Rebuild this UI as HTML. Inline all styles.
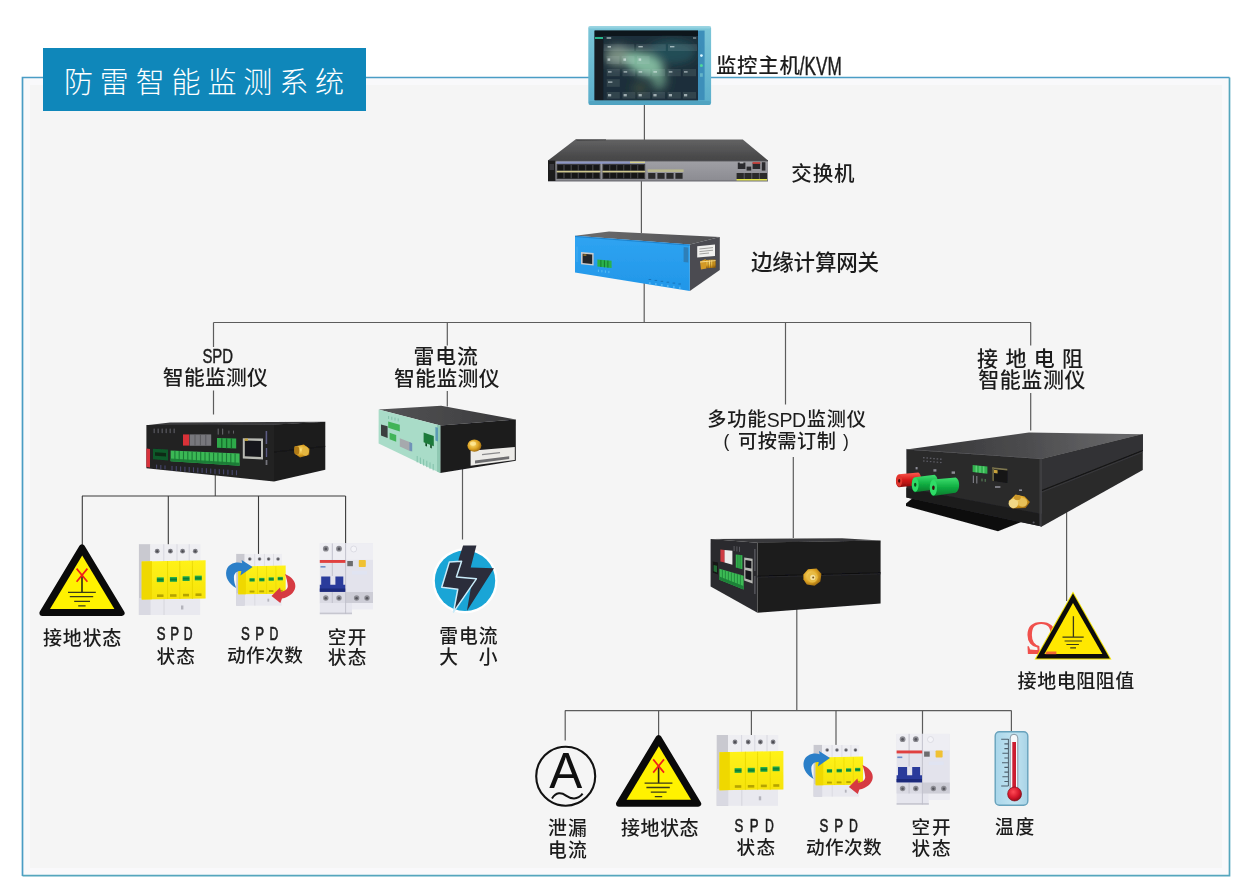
<!DOCTYPE html>
<html lang="zh-CN">
<head>
<meta charset="utf-8">
<title>防雷智能监测系统</title>
<style>
  html, body { margin: 0; padding: 0; background: #ffffff; }
  body { width: 1245px; height: 894px; overflow: hidden; }
  svg { display: block; }
  text { font-family: "Liberation Sans", "Noto Sans CJK SC", sans-serif; fill: #1c1c1c; font-weight: 500; }
  .ln { stroke: #5c5c5c; stroke-width: 1.2; fill: none; }
  .ln2 { stroke: #3a3a3a; stroke-width: 1.1; fill: none; }
</style>
</head>
<body>
<svg width="1245" height="894" viewBox="0 0 1245 894">
<defs>
  <!-- DEFS-START -->
  <linearGradient id="gMonFrame" x1="0" y1="0" x2="0" y2="1">
    <stop offset="0" stop-color="#7cc6d8"/><stop offset="1" stop-color="#5aaecb"/>
  </linearGradient>
  <radialGradient id="gMonGlow" cx="0.5" cy="0.52" r="0.5">
    <stop offset="0" stop-color="#8fc2a8" stop-opacity="1"/>
    <stop offset="0.4" stop-color="#4f8580" stop-opacity="0.8"/>
    <stop offset="1" stop-color="#16242e" stop-opacity="0"/>
  </radialGradient>
  <linearGradient id="gSwTop" x1="0" y1="0" x2="0" y2="1">
    <stop offset="0" stop-color="#626263"/><stop offset="1" stop-color="#454546"/>
  </linearGradient>
  <linearGradient id="gSwFront" x1="0" y1="0" x2="0" y2="1">
    <stop offset="0" stop-color="#a0a0a6"/><stop offset="1" stop-color="#8b8b91"/>
  </linearGradient>
  <linearGradient id="gBlue" x1="0" y1="0" x2="0" y2="1">
    <stop offset="0" stop-color="#2fa4f2"/><stop offset="1" stop-color="#2196e8"/>
  </linearGradient>
  <linearGradient id="gDarkTop" x1="0" y1="0" x2="1" y2="0">
    <stop offset="0" stop-color="#555557"/><stop offset="1" stop-color="#38383a"/>
  </linearGradient>
  <linearGradient id="gGroundTop" gradientUnits="userSpaceOnUse" x1="930" y1="455" x2="1120" y2="432">
    <stop offset="0" stop-color="#38383a"/><stop offset="0.5" stop-color="#4c4c4e"/><stop offset="1" stop-color="#666668"/>
  </linearGradient>
  <linearGradient id="gGateTop" x1="0" y1="0" x2="1" y2="0">
    <stop offset="0" stop-color="#6d6d6e"/><stop offset="1" stop-color="#505053"/>
  </linearGradient>
  <radialGradient id="gGold" cx="0.4" cy="0.4" r="0.7">
    <stop offset="0" stop-color="#ffe27a"/><stop offset="0.55" stop-color="#dda323"/><stop offset="1" stop-color="#8a5a0c"/>
  </radialGradient>
  <linearGradient id="gYellow" x1="0" y1="0" x2="0" y2="1">
    <stop offset="0" stop-color="#fff21a"/><stop offset="1" stop-color="#f6e30a"/>
  </linearGradient>
  <linearGradient id="gGreenWin" x1="0" y1="0" x2="0" y2="1">
    <stop offset="0" stop-color="#2fbf4f"/><stop offset="0.5" stop-color="#0b7a34"/><stop offset="1" stop-color="#27b048"/>
  </linearGradient>
  <linearGradient id="gThermo" x1="0" y1="0" x2="1" y2="0">
    <stop offset="0" stop-color="#a9d6ea"/><stop offset="0.6" stop-color="#c3e4f1"/><stop offset="1" stop-color="#a8d3e6"/>
  </linearGradient>
  <radialGradient id="gBulb" cx="0.4" cy="0.35" r="0.7">
    <stop offset="0" stop-color="#ff4a55"/><stop offset="0.6" stop-color="#d5162a"/><stop offset="1" stop-color="#8e0a18"/>
  </radialGradient>
  <linearGradient id="gGreenPlug" x1="0" y1="0" x2="0" y2="1">
    <stop offset="0" stop-color="#3fe070"/><stop offset="0.5" stop-color="#12b043"/><stop offset="1" stop-color="#0a7a2c"/>
  </linearGradient>
  <linearGradient id="gRedPlug" x1="0" y1="0" x2="0" y2="1">
    <stop offset="0" stop-color="#ff5a50"/><stop offset="0.5" stop-color="#d61a1a"/><stop offset="1" stop-color="#8a0c0c"/>
  </linearGradient>
  <filter id="fGlow" x="-30%" y="-30%" width="160%" height="160%"><feGaussianBlur stdDeviation="4.5"/></filter>
  <filter id="fBlur1" x="-5%" y="-5%" width="110%" height="110%"><feGaussianBlur stdDeviation="0.4"/></filter>
  <filter id="fBlur2" x="-10%" y="-10%" width="120%" height="120%"><feGaussianBlur stdDeviation="0.8"/></filter>

  <!-- warning triangle with ground-fault symbol; apex at (82,544.4) -->
  <g id="icoTri">
    <path d="M82 547.3 L121.6 613 L42.4 613 Z" fill="#0a0a0a" stroke="#0a0a0a" stroke-width="6" stroke-linejoin="round"/>
    <path d="M82.2 555.4 L114.4 609 L50 609 Z" fill="#fff200"/>
    <path d="M82 575 V592.3" stroke="#2a2a14" stroke-width="1.6" fill="none"/>
    <path d="M68 592.4 H95.8 M69.8 596.7 H93.2 M74.2 601.3 H90 M78.2 605.9 H85.6" stroke="#3a3a1a" stroke-width="1.3" fill="none"/>
    <path d="M76.6 568.6 L87.4 581.8 M87.4 568.6 L76.6 581.8" stroke="#f0201a" stroke-width="1.7" fill="none"/>
  </g>

  <!-- big SPD module; bbox (138.8,544.2)-(205.6,615) -->
  <g id="icoSPD" filter="url(#fBlur1)">
    <rect x="138.9" y="544.2" width="11.6" height="70.8" fill="#c9c9d0"/>
    <rect x="150.2" y="544.2" width="50.3" height="18" fill="#eeeef2"/>
    <path d="M163.8 544.2 V562 M177 544.2 V562 M189.2 544.2 V562" stroke="#d2d2da" stroke-width="0.8"/>
    <g fill="#7d7d84"><circle cx="157.2" cy="551.2" r="2.4"/><circle cx="170.4" cy="551.2" r="2.4"/><circle cx="182.6" cy="551.2" r="2.4"/><circle cx="195.3" cy="551.2" r="2.4"/></g>
    <g fill="#4a4a50"><circle cx="157.2" cy="551.4" r="1.1"/><circle cx="170.4" cy="551.4" r="1.1"/><circle cx="182.6" cy="551.4" r="1.1"/><circle cx="195.3" cy="551.4" r="1.1"/></g>
    <rect x="150.2" y="598" width="50" height="17" fill="#e9e9ef"/>
    <rect x="138.9" y="598" width="11.6" height="17" fill="#d9d9e2"/>
    <path d="M164 599 V615" stroke="#d0d0d8" stroke-width="0.8"/>
    <rect x="181" y="605.5" width="2.4" height="4" fill="#b4b4bc"/>
    <path d="M141.7 561.5 L205.6 560.2 L205.6 598.6 L141.7 599.4 Z" fill="url(#gYellow)"/>
    <path d="M141.7 561.5 L152 561.3 L152 599.3 L141.7 599.4 Z" fill="#efd800"/>
    <path d="M167.6 561 V599 M179.8 561 V599 M192.4 561 V599" stroke="#e6d400" stroke-width="0.8"/>
    <rect x="156.8" y="577.3" width="7" height="4.8" fill="url(#gGreenWin)"/>
    <rect x="169.9" y="577" width="7.1" height="4.8" fill="url(#gGreenWin)"/>
    <rect x="182.6" y="576.2" width="7" height="4.8" fill="url(#gGreenWin)"/>
    <rect x="194.8" y="575.6" width="7" height="4.8" fill="url(#gGreenWin)"/>
    <g fill="#b5a400"><rect x="157" y="594.4" width="6.5" height="2.6"/><rect x="170" y="594.2" width="6.5" height="2.6"/><rect x="183" y="593.8" width="6" height="2.6"/><rect x="195.5" y="593.4" width="6" height="2.6"/></g>
  </g>

  <!-- small SPD with arrows; bbox about (225,553.8)-(296,606) -->
  <g id="icoSPDcnt">
    <g transform="translate(236.2,553.9) scale(0.742,0.731) translate(-138.9,-544.2)"><use href="#icoSPD"/></g>
    <path d="M236.2 588 C229 584 224.8 577 226.4 570.4 C228.4 563.6 236 561.4 242.2 563.2 L241.6 560 L252.6 567.1 L240.4 575.4 L241.4 571.2 C237.4 570.6 234.2 573 233.9 577 C233.8 581 235 585 236.2 588 Z" fill="#2b7fc8"/>
    <path d="M285 574 C292 577 296 582 295.3 587 C294.5 593 289 597 282 598.6 L280.3 603 L271.5 596 L280 587.5 L281 592 C285 591 288 589 287.8 586 C287.5 582 286.5 578 285 574 Z" fill="#d63a42"/>
  </g>

  <!-- circuit breaker; bbox (319.8,543.4)-(373,614.2) -->
  <g id="icoBrk" filter="url(#fBlur1)">
    <rect x="319.8" y="543.4" width="53.2" height="60" fill="#e3e3ec"/>
    <rect x="319.8" y="543.4" width="53.2" height="16.4" fill="#eeeef3"/>
    <rect x="319.8" y="603" width="32.2" height="11.2" fill="#e6e6ee"/>
    <rect x="352" y="603" width="21" height="6.4" fill="#ececf2"/>
    <rect x="319.8" y="612.6" width="32.2" height="1.6" fill="#c6c6cf"/>
    <rect x="345.6" y="592" width="27.4" height="11" fill="#cdcdd6"/>
    <rect x="319.8" y="592" width="25.8" height="11" fill="#dadae3"/>
    <path d="M332.3 543.4 V576 M332.3 592 V603 M345.6 543.4 V614" stroke="#bdbdc8" stroke-width="0.9"/>
    <g fill="#8b8b92"><circle cx="325.8" cy="548.7" r="2.9"/><circle cx="339" cy="548.7" r="2.9"/><circle cx="325.8" cy="598" r="2.7"/><circle cx="339" cy="598" r="2.7"/><circle cx="356.6" cy="598" r="2.7"/><circle cx="367" cy="598" r="2.7"/></g>
    <g fill="#55555c"><circle cx="325.8" cy="548.9" r="1.4"/><circle cx="339" cy="548.9" r="1.4"/><circle cx="325.8" cy="598.2" r="1.3"/><circle cx="339" cy="598.2" r="1.3"/><circle cx="356.6" cy="598.2" r="1.3"/><circle cx="367" cy="598.2" r="1.3"/></g>
    <circle cx="353.7" cy="549" r="3" fill="#f4f4f8" stroke="#d6d6de" stroke-width="0.8"/>
    <rect x="319.8" y="560" width="25.6" height="2.9" fill="#e0413f"/>
    <rect x="320.5" y="566" width="5" height="1.6" fill="#6f8fc8"/>
    <rect x="347.3" y="561" width="5.6" height="5.2" fill="#6c6c6e"/>
    <rect x="358.8" y="560" width="7" height="7" rx="0.8" fill="#f0c132"/>
    <rect x="352" y="571" width="15" height="3.5" fill="#dfe3f4" opacity="0.8"/>
    <path d="M321.2 576.5 H330.3 V584.8 H335.4 V576.5 H343.3 V584.8 H345.2 V591.8 H319.8 V584.8 H321.2 Z" fill="#2b3b9b"/>
    <rect x="319.8" y="588.5" width="25.4" height="3.3" fill="#1f2c7c"/>
  </g>
  <!-- DEFS-END -->
</defs>

<!-- FRAME -->
<g id="frame">
  <rect x="22.5" y="77.5" width="1207" height="798" fill="#f5f5f5"/>
  <rect x="26.5" y="81.5" width="1199" height="790" fill="none" stroke="#fbfbfe" stroke-width="7" opacity="0.7"/>
  <path d="M22.5 876 V77.5 H1229.5" fill="none" stroke="#4a9dc5" stroke-width="1.7"/>
  <path d="M22.5 875.6 H1229.5 V77.5" fill="none" stroke="#55a6bd" stroke-width="1.7"/>
  <rect x="43" y="48" width="323" height="63" fill="#0f87ba"/>
  <text x="64" y="92.6" font-size="29" style="fill:#ffffff;font-weight:300" textLength="280" lengthAdjust="spacing">防雷智能监测系统</text>
</g>

<!-- LINES -->
<g id="lines">
  <path class="ln" d="M644.4 104 V141"/>
  <path class="ln" d="M641.4 180 V233"/>
  <path class="ln" d="M644.2 282 V322.5"/>
  <path class="ln" d="M213.5 322.5 H1031"/>
  <path class="ln" d="M213.5 322.5 V347 M213.5 390.5 V414.6"/>
  <path class="ln" d="M447.3 322.5 V345.5 M447.3 391 V406.4"/>
  <path class="ln" d="M785.5 322.5 V404.5"/>
  <path class="ln" d="M1030.7 322.5 V345.5 M1030.7 393 V430.4"/>
  <path class="ln" d="M215.3 468 V496"/>
  <path class="ln2" d="M82 496 H345.5"/>
  <path class="ln2" d="M82.3 496 V546 M168.3 496 V545 M258.5 496 V555 M345.6 496 V544"/>
  <path class="ln" d="M462.5 466 V539.5"/>
  <path class="ln" d="M793.3 457 V538"/>
  <path class="ln" d="M796.8 608 V710.6"/>
  <path class="ln" d="M565 710.6 H1011.4"/>
  <path class="ln" d="M565.2 710.6 V740.6 M658.6 710.6 V737 M751.4 710.6 V736 M836 710.6 V746 M922.5 710.6 V734.5 M1011.4 710.6 V732"/>
  <path class="ln" d="M1066.6 505 V601"/>
</g>

<!-- DEVICES -->
<g id="devices" filter="url(#fBlur1)">
  <!-- ===== monitor / KVM ===== -->
  <g id="devMonitor">
    <rect x="588.3" y="26.2" width="122.8" height="78.8" rx="2.2" fill="url(#gMonFrame)"/>
    <rect x="588.3" y="26.2" width="122.8" height="2.2" rx="1.5" fill="#9ad5e2" opacity="0.8"/>
    <rect x="589" y="101" width="121.4" height="4" rx="1.5" fill="#4d9fbd" opacity="0.75"/>
    <rect x="698" y="30.6" width="6.6" height="69.6" fill="#3d8fba"/>
    <rect x="594.6" y="30.6" width="103.4" height="69.6" fill="#15202a"/>
    <rect x="594.6" y="30.6" width="103.4" height="5.2" fill="#0c131b"/>
    <rect x="603.2" y="36" width="94.8" height="64.2" fill="#1d2f3a"/>
    <g filter="url(#fGlow)">
      <ellipse cx="672" cy="52" rx="24" ry="12" fill="#2a6670" opacity="0.55"/>
      <ellipse cx="618" cy="56" rx="13" ry="10" fill="#b4cdb0" opacity="0.6"/>
      <ellipse cx="644" cy="64" rx="21" ry="11" transform="rotate(22 644 64)" fill="#8cc6a8" opacity="0.9"/>
      <ellipse cx="659" cy="79" rx="8" ry="11" fill="#6fa48a" opacity="0.7"/>
      <ellipse cx="640" cy="88" rx="8" ry="6" fill="#6a7a4a" opacity="0.35"/>
    </g>
    <rect x="594.6" y="35.8" width="8.6" height="64.4" fill="#121a23"/>
    <rect x="595" y="37" width="8" height="2" fill="#29b58c"/>
    <g fill="#c9dadf" opacity="0.12">
      <rect x="603.8" y="44.2" width="30.4" height="6.8"/><rect x="636.2" y="44.2" width="29.6" height="6.8"/><rect x="668" y="44.2" width="29" height="6.8"/>
      <rect x="606.6" y="56" width="12.8" height="8"/><rect x="621.6" y="56" width="12.8" height="8"/><rect x="637" y="56" width="12.6" height="8"/>
      <rect x="606.8" y="69" width="13" height="7.2"/><rect x="622.4" y="69" width="12.8" height="7.2"/><rect x="637.4" y="69" width="12.8" height="7.2"/><rect x="652.2" y="69" width="12.8" height="7.2"/><rect x="667.6" y="69" width="13.2" height="7.2"/><rect x="682.8" y="69" width="13.2" height="7.2"/>
      <rect x="606.8" y="79.2" width="13" height="7.6"/>
      <rect x="606.8" y="92" width="13" height="6.6"/><rect x="622.4" y="92" width="12.8" height="6.6"/><rect x="637.4" y="92" width="12.8" height="6.6"/><rect x="652.2" y="92" width="12.8" height="6.6"/><rect x="667.6" y="92" width="13.2" height="6.6"/><rect x="682.8" y="92" width="13.2" height="6.6"/>
    </g>
    <g fill="#e6f2f2" opacity="0.6">
      <rect x="607.6" y="46" width="3.4" height="1.6"/><rect x="638.4" y="46" width="4.4" height="1.4"/><rect x="670" y="46" width="4.4" height="1.4"/>
      <rect x="607.6" y="58.4" width="2.6" height="2.4"/><rect x="623.4" y="58.4" width="2.6" height="2.4"/><rect x="638.6" y="58.4" width="2.6" height="2.4"/>
      <rect x="608" y="71.2" width="3.6" height="1.4"/><rect x="623.6" y="71.2" width="3.6" height="1.4"/><rect x="638.6" y="71.2" width="3.6" height="1.4"/><rect x="653.4" y="71.2" width="3.6" height="1.4"/><rect x="668.8" y="71.2" width="3.6" height="1.4"/><rect x="684" y="71.2" width="3.6" height="1.4"/>
      <rect x="608" y="81.4" width="4.4" height="1.4"/>
      <rect x="608" y="94" width="3.2" height="2.4"/><rect x="623.6" y="94" width="3.2" height="2.4"/><rect x="638.6" y="94" width="3.2" height="2.4"/><rect x="653.4" y="94" width="3.2" height="2.4"/><rect x="668.8" y="94" width="3.2" height="2.4"/><rect x="684" y="94" width="3.2" height="2.4"/>
      <rect x="606.6" y="37.2" width="4.6" height="1.6"/><rect x="693" y="37.4" width="3.2" height="1.2"/>
    </g>
    <circle cx="701.4" cy="55.6" r="1.4" fill="#d8f6ff"/>
    <circle cx="701.4" cy="65.6" r="1.5" fill="#4fd89a"/>
    <rect x="700" y="73.2" width="2.8" height="3.6" fill="#63b4c8"/>
  </g>

  <!-- ===== switch ===== -->
  <g id="devSwitch">
    <path d="M575.4 139.4 L742.8 139.4 L768 160.4 L548 160.4 Z" fill="url(#gSwTop)"/>
    <path d="M575.4 139.4 L606 139.4 L606 140.2 L577 140.4 Z" fill="#333"/>
    <rect x="548" y="160.2" width="220" height="21" fill="url(#gSwFront)"/>
    <rect x="548" y="160.2" width="220" height="1.1" fill="#39393b"/>
    <rect x="548" y="180.4" width="220" height="1" fill="#6b6b70"/>
    <rect x="548" y="160.6" width="7.4" height="20.4" fill="#1b1b1d"/>
    <rect x="549.4" y="164" width="4.6" height="6" fill="#39393d"/>
    <!-- RJ45 groups -->
    <rect x="556.6" y="161.6" width="88.6" height="2.4" fill="#8c96c6" opacity="0.9"/>
    <rect x="556.6" y="163.8" width="43.8" height="15.2" fill="#3a3a3c"/>
    <rect x="602.4" y="163.8" width="42.8" height="15.2" fill="#3a3a3c"/>
    <g fill="#121214">
      <rect x="557.6" y="165.2" width="5.6" height="5.2"/><rect x="564.8" y="165.2" width="5.6" height="5.2"/><rect x="572" y="165.2" width="5.6" height="5.2"/><rect x="579.2" y="165.2" width="5.6" height="5.2"/><rect x="586.4" y="165.2" width="5.6" height="5.2"/><rect x="593.6" y="165.2" width="5.6" height="5.2"/>
      <rect x="557.6" y="172.8" width="5.6" height="5.4"/><rect x="564.8" y="172.8" width="5.6" height="5.4"/><rect x="572" y="172.8" width="5.6" height="5.4"/><rect x="579.2" y="172.8" width="5.6" height="5.4"/><rect x="586.4" y="172.8" width="5.6" height="5.4"/><rect x="593.6" y="172.8" width="5.6" height="5.4"/>
      <rect x="603.4" y="165.2" width="5.6" height="5.2"/><rect x="610.4" y="165.2" width="5.6" height="5.2"/><rect x="617.4" y="165.2" width="5.6" height="5.2"/><rect x="624.4" y="165.2" width="5.6" height="5.2"/><rect x="631.4" y="165.2" width="5.6" height="5.2"/><rect x="638.4" y="165.2" width="5.6" height="5.2"/>
      <rect x="603.4" y="172.8" width="5.6" height="5.4"/><rect x="610.4" y="172.8" width="5.6" height="5.4"/><rect x="617.4" y="172.8" width="5.6" height="5.4"/><rect x="624.4" y="172.8" width="5.6" height="5.4"/><rect x="631.4" y="172.8" width="5.6" height="5.4"/><rect x="638.4" y="172.8" width="5.6" height="5.4"/>
    </g>
    <rect x="556.6" y="170.8" width="43.8" height="1.6" fill="#cfc78c"/>
    <rect x="602.4" y="170.8" width="42.8" height="1.6" fill="#cfc78c"/>
    <rect x="630" y="161.6" width="15" height="1.6" fill="#d6d08a"/>
    <!-- SFP -->
    <rect x="647.6" y="169.4" width="36" height="2.6" fill="#b9b88e"/>
    <g fill="#2a2a2c"><rect x="648.2" y="173" width="7.2" height="5.8"/><rect x="657.4" y="173" width="7.2" height="5.8"/><rect x="666.4" y="173" width="7.2" height="5.8"/><rect x="675.4" y="173" width="7.2" height="5.8"/></g>
    <!-- right ports -->
    <g fill="#2c2c2e"><rect x="737.8" y="162.6" width="7.6" height="6.4"/><rect x="752.6" y="162.6" width="7.6" height="6.4"/><rect x="761.8" y="162.2" width="3.6" height="8.4"/><rect x="746.6" y="166.6" width="4.6" height="4"/></g>
    <rect x="752.6" y="162.2" width="7.6" height="1.6" fill="#d8413c"/>
    <rect x="739.8" y="162.2" width="3.6" height="1.2" fill="#c8c8cc"/>
    <rect x="736.6" y="173" width="30.4" height="6" fill="#2a2a2c"/>
    <path d="M744.2 173 V179 M751.8 173 V179 M759.4 173 V179" stroke="#77777c" stroke-width="0.7"/>
    <rect x="736.6" y="179" width="30.4" height="1.5" fill="#e1e34a"/>
  </g>

  <!-- ===== edge gateway ===== -->
  <g id="devGateway">
    <path d="M575 235.7 L609 231.4 L719.8 237 L689.8 244.6 Z" fill="url(#gGateTop)"/>
    <path d="M689.8 244.4 L719.8 237 L719.8 270 L689.8 291 Z" fill="#4b4c51"/>
    <path d="M575 235.7 L689.8 244.4 L689.8 291 L575 272.6 Z" fill="url(#gBlue)"/>
    <path d="M575 235.7 L689.8 244.4 L689.8 245.8 L575 237 Z" fill="#1a78c0" opacity="0.7"/>
    <path d="M683.6 247 L688.3 247.4 L688.3 262.6 L683.6 262 Z" fill="#2f7fb8"/>
    <!-- RJ45 -->
    <path d="M581 252 L593.6 253 L593.6 265.4 L581 264.2 Z" fill="#c9ccce"/>
    <path d="M582.6 253.8 L592.2 254.6 L592.2 264 L582.6 263 Z" fill="#24262a"/>
    <rect x="583.4" y="254.2" width="3" height="1.8" fill="#8a6a2a"/>
    <!-- green terminal -->
    <path d="M597.4 259.6 L611.6 260.8 L611.6 268 L597.4 266.6 Z" fill="#2bb24c"/>
    <path d="M600.9 260 V267 M604.4 260.3 V267.3 M607.9 260.6 V267.6" stroke="#14782c" stroke-width="1"/>
    <path d="M598.4 269.6 V272 M601.9 270 V272.4 M605.4 270.4 V272.8 M608.9 270.8 V273.2" stroke="#63c5f6" stroke-width="0.8"/>
    <path d="M577 246.6 V262" stroke="#58b9f5" stroke-width="0.8" opacity="0.7"/>
    <!-- LEDs text -->
    <g fill="#1670b5" opacity="0.9"><rect x="648.6" y="279" width="2.6" height="1"/><rect x="654.6" y="279.9" width="2.6" height="1"/><rect x="660.6" y="280.8" width="2.6" height="1"/><rect x="666.6" y="281.7" width="2.6" height="1"/><rect x="672.6" y="282.6" width="2.6" height="1"/><rect x="678.4" y="283.5" width="2.6" height="1"/></g>
    <g fill="#58baf5" opacity="0.8"><rect x="649" y="282.2" width="1.6" height="2.2"/><rect x="655" y="283.1" width="1.6" height="2.2"/><rect x="661" y="284" width="1.6" height="2.2"/><rect x="667" y="284.9" width="1.6" height="2.2"/><rect x="673" y="285.8" width="1.6" height="2.2"/><rect x="679" y="286.7" width="1.6" height="2.2"/></g>
    <!-- label + SMA -->
    <path d="M697.2 246.2 L715 244.4 L715 256 L697.2 257.6 Z" fill="#f0f0ee"/>
    <path d="M699.4 249 L713 247.6 M699.4 251.6 L713 250.2 M699.4 254 L709 253" stroke="#8d8d8a" stroke-width="0.8"/>
    <path d="M700 261.4 L705.6 259 L706.4 268.4 L701 269.6 Z" fill="#d39a28"/>
    <path d="M705.6 260 L715.6 259.4 L715.8 267.8 L706.2 268.2 Z" fill="url(#gGold)"/>
    <path d="M708.2 259.9 V268 M710.6 259.8 V267.9 M713 259.6 V267.8" stroke="#8a5f14" stroke-width="0.7"/>
    <path d="M700 262 L715.6 260.6" stroke="#ffeaa0" stroke-width="1" opacity="0.8"/>
  </g>
</g>

<g id="devices2" filter="url(#fBlur1)">
  <!-- ===== SPD intelligent monitor (black, left) ===== -->
  <g id="devSPDmon">
    <path d="M146.4 425.2 L170 422.6 L325.2 421.8 L274 424.8 Z" fill="#3a3a3c"/>
    <path d="M274 424.6 L325.3 421.8 L325.3 469.8 L274 481.4 Z" fill="#1b1b1d"/>
    <path d="M146.4 425 L274 424.6 L274 481.4 L146.4 468.2 Z" fill="#202022"/>
    <path d="M274 452 L325.3 446.4" stroke="#101011" stroke-width="0.8"/>
    <path d="M146.4 448.6 L150 448.9 L150 467.4 L146.4 467 Z" fill="#d8323a"/>
    <!-- small dark-green connector -->
    <path d="M153 448.8 L168 449.6 L168 460.4 L153 459.2 Z" fill="#0f5a2a"/>
    <path d="M155 452.2 L166 452.9 L166 456.6 L155 455.8 Z" fill="#0a2a14"/>
    <!-- display -->
    <rect x="183" y="434.4" width="6.2" height="11.2" fill="#d93038"/>
    <rect x="189.6" y="434.4" width="21.6" height="11.4" fill="#77777c"/>
    <path d="M195 434.6 V445.6 M200.4 434.6 V445.6 M205.8 434.6 V445.6" stroke="#55555a" stroke-width="0.9"/>
    <!-- upper small terminals -->
    <path d="M217 438 L236.2 438.4 L236.2 448.4 L217 447.8 Z" fill="#2ea84a"/>
    <path d="M221.8 438.2 V448 M226.6 438.2 V448.2 M231.4 438.3 V448.3" stroke="#156c2b" stroke-width="1.3"/>
    <!-- long terminal strip -->
    <path d="M170.6 450.4 L239.6 453.6 L239.6 465.8 L170.6 461.2 Z" fill="#3ab854"/>
    <path d="M170.6 458.6 L239.6 462.8 L239.6 465.8 L170.6 461.2 Z" fill="#1f7f38"/>
    <path d="M174.9 450.8 V460.6 M179.2 451 V460.9 M183.5 451.2 V461.2 M187.8 451.4 V461.5 M192.1 451.6 V461.8 M196.4 451.8 V462.1 M200.7 452 V462.4 M205 452.2 V462.7 M209.3 452.4 V463 M213.6 452.6 V463.3 M217.9 452.8 V463.6 M222.2 453 V463.9 M226.5 453.2 V464.2 M230.8 453.4 V464.5 M235.1 453.6 V464.8" stroke="#1c7a35" stroke-width="1.1"/>
    <!-- RJ45 -->
    <path d="M242.8 438.2 L263 438.6 L263 459.6 L242.8 458.6 Z" fill="#b9bab4"/>
    <path d="M244.8 440.6 L261 441 L261 457 L244.8 456.2 Z" fill="#17181a"/>
    <rect x="244.6" y="438.6" width="3.4" height="2.2" fill="#c9a83a"/>
    <!-- tiny labels -->
    <g fill="#77777c" opacity="0.75">
      <rect x="153.6" y="428.6" width="1.1" height="4.6"/><rect x="157.6" y="428.6" width="1.1" height="4.6"/><rect x="161.6" y="428.6" width="1.1" height="4.6"/><rect x="165.6" y="428.6" width="1.1" height="4.6"/><rect x="169.6" y="428.6" width="1.1" height="4.6"/><rect x="173.6" y="428.6" width="1.1" height="4.6"/>
      <rect x="217.6" y="428.6" width="1.2" height="6"/><rect x="222" y="428.6" width="1.2" height="6"/><rect x="228.4" y="430.6" width="1" height="3"/><rect x="233" y="430.6" width="1" height="3"/>
    </g>
    <g fill="#4d4d7a" opacity="0.8">
      <rect x="156" y="464.6" width="1.2" height="4"/><rect x="160.2" y="465" width="1.2" height="4"/><rect x="164.4" y="465.4" width="1.2" height="4"/>
      <rect x="171.4" y="465.8" width="1.2" height="5"/><rect x="175.7" y="466.1" width="1.2" height="5"/><rect x="180" y="466.4" width="1.2" height="5"/><rect x="184.3" y="466.7" width="1.2" height="5"/><rect x="188.6" y="467" width="1.2" height="5"/><rect x="192.9" y="467.3" width="1.2" height="5"/><rect x="197.2" y="467.6" width="1.2" height="5"/><rect x="201.5" y="467.9" width="1.2" height="5"/><rect x="205.8" y="468.2" width="1.2" height="5"/><rect x="210.1" y="468.5" width="1.2" height="5"/><rect x="214.4" y="468.8" width="1.2" height="5"/><rect x="218.7" y="469.1" width="1.2" height="5"/><rect x="223" y="469.4" width="1.2" height="5"/><rect x="227.3" y="469.7" width="1.2" height="5"/><rect x="231.6" y="470" width="1.2" height="5"/><rect x="235.9" y="470.3" width="1.2" height="5"/>
    </g>
    <g fill="#6c6c9a" opacity="0.8"><rect x="265.6" y="431" width="1.6" height="13"/><rect x="265.8" y="448" width="1.4" height="9"/><rect x="265.6" y="460" width="1.8" height="5" fill="#8a8a90"/></g>
    <!-- SMA -->
    <path d="M294.4 446.6 L303.8 444.6 L309.6 448.8 L309.2 455 L300 457.6 L294.6 453.6 Z" fill="url(#gGold)"/>
    <ellipse cx="305.4" cy="451.2" rx="3.6" ry="4.6" fill="#e3b540"/>
    <ellipse cx="296.8" cy="450.4" rx="2.6" ry="4.2" fill="#b07a18"/>
  </g>

  <!-- ===== lightning current monitor (green/black) ===== -->
  <g id="devLightning">
    <path d="M378.6 409.6 L441.2 405.8 L515.8 419.6 L440.4 425.6 Z" fill="url(#gDarkTop)"/>
    <path d="M440.2 425.4 L515.8 419.6 L515.8 460.8 L440.2 473 Z" fill="#1a1a1c"/>
    <path d="M378.6 409.6 L440.2 425.4 L440.2 473 L378.6 443.4 Z" fill="#a9dcc8"/>
    <path d="M437 424.6 L440.2 425.4 L440.2 473 L437 471.4 Z" fill="#8fc8b2"/>
    <!-- front details -->
    <path d="M381 424.4 L387.6 426.2 L387.6 438 L381 435.6 Z" fill="#3a3f3f"/>
    <path d="M388.2 421.6 L399.8 424.8 L399.8 431.6 L388.2 427.8 Z" fill="#43b458"/>
    <path d="M389.6 432.8 L396.2 435 L396.2 441.8 L389.6 439.2 Z" fill="#43b458"/>
    <path d="M399.8 438.2 L410.8 442.6 L410.8 451.6 L399.8 446.6 Z" fill="#a6a9ad"/>
    <path d="M409.4 442 L412.2 443.2 L412.2 451.6 L409.4 450.4 Z" fill="#6f93b8"/>
    <path d="M423.6 432.6 L433.8 436 L433.8 446.2 L423.6 442.2 Z" fill="#1f7a3a"/>
    <path d="M425.4 442.8 L427 443.4 L427 446.6 L425.4 446 Z M430.2 444.6 L431.8 445.2 L431.8 448.4 L430.2 447.8 Z" fill="#0f4a22"/>
    <path d="M435.4 427 L438 427.8 L438 441.4 L435.4 440.4 Z" fill="#5b9bb5"/>
    <g stroke="#7fbfa8" stroke-width="0.9" fill="none"><path d="M388.6 416 V419 M391.8 416.8 V419.8 M395 417.6 V420.6 M398.2 418.4 V421.4"/><path d="M417.2 456 V462.4 M420.4 457.6 V464 M423.6 459.2 V465.6 M426.8 460.8 V467.2 M430 462.4 V468.8 M433.2 464 V470.4"/></g>
    <!-- label + SMA -->
    <path d="M470.6 450.8 L514.8 447 L514.8 460 L470.6 465.8 Z" fill="#ecebe8"/>
    <path d="M475 460.4 L509.2 456.2 L509.2 459 L475 463.4 Z" fill="#6d6d6f"/>
    <path d="M482 454.6 L500 452.6" stroke="#8a8a8c" stroke-width="1.2"/>
    <ellipse cx="474.4" cy="445.6" rx="7" ry="6.2" fill="url(#gGold)"/>
    <ellipse cx="473" cy="443.6" rx="3" ry="2.2" fill="#ffe89a" opacity="0.8"/>
  </g>

  <!-- ===== multi-function SPD monitor (black) ===== -->
  <g id="devMulti">
    <path d="M710.6 539 L757.5 542.8 L880.6 540.6 L842 538.2 Z" fill="#39393b"/>
    <path d="M757.5 542.6 L880.6 540.6 L880.6 603.6 L757.5 612.8 Z" fill="#1b1b1d"/>
    <path d="M710.6 539 L757.5 542.8 L757.5 612.8 L710.6 586.6 Z" fill="#2c2c2f"/>
    <path d="M757.5 576.2 L880.6 572.8" stroke="#0d0d0e" stroke-width="1"/>
    <path d="M757.5 577.2 L880.6 573.8" stroke="#2b2b2e" stroke-width="0.8"/>
    <!-- left face details -->
    <path d="M720.4 549.6 L724.8 550 L724.8 562.6 L720.4 561.6 Z" fill="#cf3a42"/>
    <path d="M724.6 550 L732.4 550.8 L732.4 564.8 L724.6 562.6 Z" fill="#ecebea"/>
    <path d="M735.8 554.4 L742.4 555.2 L742.4 569.2 L735.8 567.4 Z" fill="#35b150"/>
    <path d="M737.9 554.8 V568 M740.1 555 V568.6" stroke="#1b7a34" stroke-width="0.7"/>
    <path d="M719.4 568.8 L743.6 575.8 L743.6 589.4 L719.4 579.8 Z" fill="#3dbb55"/>
    <path d="M719.4 576.6 L743.6 586 L743.6 589.4 L719.4 579.8 Z" fill="#1f8238"/>
    <path d="M722.4 569.8 V578.6 M725.4 570.6 V579.8 M728.4 571.4 V581 M731.4 572.2 V582.2 M734.4 573 V583.4 M737.4 573.8 V584.6 M740.4 574.6 V585.8" stroke="#1f8238" stroke-width="0.8"/>
    <path d="M744.2 557.6 L752.6 558.8 L752.6 583.6 L744.2 580.4 Z" fill="#b9bab6"/>
    <path d="M745.4 560 L751.4 561 L751.4 568.6 L745.4 567.4 Z M745.4 570 L751.4 571.4 L751.4 580.4 L745.4 578.4 Z" fill="#18191b"/>
    <path d="M712.8 561.4 L717.8 562.4 L717.8 574.4 L712.8 572.4 Z" fill="#121314"/>
    <path d="M713.6 565 L717 565.8 L717 572.4 L713.6 571.2 Z" fill="#246a34"/>
    <g fill="#6c6c74" opacity="0.7"><rect x="754.2" y="549" width="1.3" height="22"/><rect x="754.2" y="576" width="1.3" height="18"/><rect x="733.6" y="546" width="1" height="5"/><rect x="736.4" y="546.4" width="1" height="5"/><rect x="739" y="546.8" width="1" height="5"/></g>
    <!-- SMA -->
    <path d="M803.4 574.4 L808 569.2 L816.6 568.6 L821.4 573.8 L820.4 581.6 L814.6 585.8 L806.8 584.6 L803.4 579.6 Z" fill="url(#gGold)"/>
    <circle cx="812.4" cy="577.2" r="5.2" fill="#e7bb45"/>
    <circle cx="812.8" cy="577.4" r="2.6" fill="#f6e2a0"/>
    <circle cx="813.2" cy="577.6" r="1" fill="#7d5a1a"/>
  </g>

  <!-- ===== ground resistance monitor ===== -->
  <g id="devGround">
    <!-- base plate -->
    <path d="M906 503.4 L914 497 L1030 519 L1017.4 523.6 L998 531.2 L906 506 Z" fill="#0e0e0f"/>
    <!-- body -->
    <path d="M906.4 449.4 L1028.8 432.6 L1142.8 434.2 L1041.8 459 Z" fill="url(#gGroundTop)"/>
    <path d="M906.4 449.4 L1041.8 459" stroke="#5a5a5d" stroke-width="0.8"/>
    <path d="M1041.8 459 L1142.8 434.2 L1142.8 470 L1041.8 526.4 Z" fill="#2a2a2c"/>
    <path d="M1041.8 459 L1142.8 434.2 L1142.8 450.6 L1041.8 490.6 Z" fill="#323234"/>
    <path d="M1041.8 490.6 L1142.8 450.6" stroke="#141415" stroke-width="1.1"/>
    <path d="M1041.8 492 L1142.8 452" stroke="#3c3c3f" stroke-width="0.8"/>
    <path d="M906.4 449.4 L1041.8 459 L1041.8 526.4 L1020 522 L906.4 497.4 Z" fill="#29292b"/>
    <path d="M906.4 488 L1041.8 514 L1041.8 526.4 L906.4 497.4 Z" fill="#1d1d1f"/>
    <path d="M1039.4 458.8 L1041.8 459 L1041.8 526.4 L1039.4 526 Z" fill="#3c3c3f"/>
    <!-- leds -->
    <g fill="#5c5c62"><rect x="923" y="457" width="1.6" height="1.4"/><rect x="926.4" y="457.3" width="1.6" height="1.4"/><rect x="929.8" y="457.6" width="1.6" height="1.4"/><rect x="933.2" y="457.9" width="1.6" height="1.4"/><rect x="936.6" y="458.2" width="1.6" height="1.4"/><rect x="940" y="458.5" width="1.6" height="1.4"/>
      <rect x="923" y="460.4" width="1.6" height="1.2"/><rect x="926.4" y="460.7" width="1.6" height="1.2"/><rect x="929.8" y="461" width="1.6" height="1.2"/><rect x="933.2" y="461.3" width="1.6" height="1.2"/><rect x="936.6" y="461.6" width="1.6" height="1.2"/><rect x="940" y="461.9" width="1.6" height="1.2"/></g>
    <g fill="#8c8c94"><rect x="915.6" y="467" width="2" height="2.4"/><rect x="933.4" y="469.2" width="3" height="2.4"/><rect x="951.6" y="471.4" width="3.4" height="2.4"/><rect x="995" y="486.2" width="5.4" height="1.6"/><rect x="1019" y="489.4" width="3" height="1.6"/></g>
    <!-- green terminal -->
    <path d="M972.6 465 L987.4 466.4 L987.4 473.8 L972.6 472 Z" fill="#33b350"/>
    <path d="M976.2 465.6 V472.4 M980 466 V472.8 M983.8 466.4 V473.2" stroke="#7fe095" stroke-width="0.8"/>
    <path d="M973.4 475.6 V483 M976.8 476 V483.4" stroke="#7a7a80" stroke-width="1.2"/>
    <path d="M982 478.6 V481.4 M985.2 479 V481.8" stroke="#5c8a5c" stroke-width="1"/>
    <!-- RJ45 -->
    <path d="M992.2 467.2 L1007.4 468.8 L1007.4 483 L992.2 480.8 Z" fill="#121314"/>
    <path d="M992.2 467.2 L1007.4 468.8 L1007.4 470.6 L992.2 469 Z" fill="#7d7650"/>
    <path d="M992.2 467.2 L994 467.4 L994 481 L992.2 480.8 Z" fill="#6a643f"/>
    <path d="M994 469.8 L997.6 470.2 L997.6 473.4 L994 473 Z" fill="#c9a23a"/>
    <!-- plugs -->
    <path d="M898.8 474.2 C895.2 475 894.8 485.8 898.8 487.2 L918.4 485.2 C922 483.2 922 474.6 918.4 472.4 Z" fill="url(#gRedPlug)"/>
    <ellipse cx="899.2" cy="480.8" rx="3" ry="6" fill="#e2362e"/>
    <ellipse cx="899.2" cy="480.8" rx="1.1" ry="1.9" fill="#4a0808"/>
    <path d="M914.6 477.2 C911 478.4 910.6 490.2 914.8 492.2 L934.4 489.4 C938.8 486.8 939 477.4 934.6 474.8 Z" fill="url(#gGreenPlug)"/>
    <ellipse cx="915.2" cy="484.8" rx="3.4" ry="7" fill="#2fdc66"/>
    <ellipse cx="915.2" cy="484.8" rx="1.2" ry="2" fill="#0a4a1e"/>
    <path d="M932.8 479.6 C929.2 480.8 928.8 494 933 496 L955.6 492.8 C960.2 490 960.4 480 955.8 477.4 Z" fill="url(#gGreenPlug)"/>
    <ellipse cx="933.4" cy="487.8" rx="3.6" ry="7.8" fill="#2fdc66"/>
    <ellipse cx="933.4" cy="487.8" rx="1.3" ry="2.2" fill="#3a0a0a"/>
    <!-- SMA -->
    <path d="M1008.6 501.6 L1015.6 494.4 L1024.6 496.4 L1030 502 L1025.6 508 L1012 508.6 Z" fill="url(#gGold)"/>
    <ellipse cx="1013.4" cy="503.6" rx="4.8" ry="4.6" fill="#f1d887"/>
    <ellipse cx="1022.6" cy="502.4" rx="4.6" ry="4.4" fill="#e6bf58"/>
    <ellipse cx="1017.4" cy="497.6" rx="3.4" ry="2.6" fill="#c8952a"/>
    <circle cx="1033.6" cy="522.6" r="1" fill="#5a5a5e"/>
  </g>
</g>

<g id="icons">
  <!-- row under SPD monitor -->
  <use href="#icoTri"/>
  <use href="#icoSPD"/>
  <use href="#icoSPDcnt"/>
  <use href="#icoBrk"/>
  <!-- row under multi-function monitor -->
  <g transform="translate(576.6,190.8)"><use href="#icoTri"/></g>
  <g transform="translate(577.8,190.8)"><use href="#icoSPD"/></g>
  <g transform="translate(577.4,191)"><use href="#icoSPDcnt"/></g>
  <g transform="translate(576.8,190.5)"><use href="#icoBrk"/></g>

  <!-- lightning current icon -->
  <g id="icoBolt">
    <circle cx="465" cy="580.8" r="32.6" fill="#ffffff" opacity="0.9"/>
    <circle cx="465" cy="580.8" r="30.2" fill="#1aa5d6"/>
    <path d="M463.1 545.5 L476.4 545.5 L470.7 567.4 L494 568.3 L466.9 611.1 L471.5 584 L455 580 L458.8 558.8 Z" fill="#2b2d3b"/>
    <path d="M449.3 562.1 L461.6 561.2 L456.4 576.9 L476.4 578.8 L453.5 612.1 L457.8 589.2 L441.7 587.3 Z" fill="#2b2d3b" stroke="#c9ebf9" stroke-width="1.5" stroke-linejoin="round"/>
  </g>

  <!-- ground resistance icon -->
  <g id="icoOhm">
    <text x="1025.3" y="654.2" font-size="47.5" textLength="32" lengthAdjust="spacingAndGlyphs" style="font-family:'Liberation Serif',serif;font-weight:400;fill:#f0504c">Ω</text>
    <path d="M1073 591.4 L1111.5 659.4 L1034.5 659.4 Z" fill="#f2e200"/>
    <path d="M1073 593.4 L1109.8 658.6 L1036.2 658.6 Z" fill="#0c0c0c"/>
    <path d="M1073 603 L1102.4 654 L1044.4 654 Z" fill="#ffe800"/>
    <path d="M1073.4 616.2 V637" stroke="#3a3a1a" stroke-width="1.3" fill="none"/>
    <path d="M1062.5 637.2 H1083.7 M1064.6 641 H1081.9 M1066.4 644.5 H1078.9 M1070.2 647.8 H1076" stroke="#3a3a1a" stroke-width="1.2" fill="none"/>
    <path d="M1046.6 651.6 H1056.4 V654.2 H1045.4 Z" fill="#ee5a3a" opacity="0.9"/>
  </g>

  <!-- ammeter -->
  <g id="icoAmp">
    <circle cx="565.7" cy="776.2" r="29.5" fill="none" stroke="#121212" stroke-width="2.1"/>
    <text x="549.2" y="788.2" font-size="49.5" style="fill:#101010">A</text>
    <path d="M552 798.6 C556 791.8 561.5 792.4 566 795.6 C570.5 798.8 577.5 800.5 582.6 793.6" fill="none" stroke="#121212" stroke-width="2"/>
  </g>

  <!-- thermometer -->
  <g id="icoTherm">
    <rect x="995.2" y="731.8" width="32.6" height="73.4" rx="4.2" fill="url(#gThermo)" stroke="#67a2bc" stroke-width="1.4"/>
    <path d="M1010.2 794 V738 A3.8 3.8 0 0 1 1017.8 738 V794 Z" fill="#f6f8fa" stroke="#8596a3" stroke-width="1"/>
    <rect x="1012.3" y="742" width="3.7" height="50" fill="#cc1d30"/>
    <circle cx="1014.6" cy="794" r="7" fill="url(#gBulb)" stroke="#7a0a14" stroke-width="0.6"/>
    <path d="M1008.4 739 V786" stroke="#4d5f6c" stroke-width="1"/>
    <path d="M1001.2 739.2 H1008.4 M1004.4 743.9 H1008.4 M1004.4 748.6 H1008.4 M1002.4 753.3 H1008.4 M1004.4 758 H1008.4 M1002 762.7 H1008.4 M1004.4 767.4 H1008.4 M1004.4 772.1 H1008.4 M1002.4 776.8 H1008.4 M1004.4 781.5 H1008.4 M1001.2 786 H1008.4" stroke="#4d5f6c" stroke-width="1.1"/>
  </g>
</g>

<!-- LABELS -->
<g id="labels">
  <text x="715.9 737.1 758.2 779.4" y="73.2" font-size="20.5">监控主机</text>
  <text x="799.7" y="75.2" font-size="25.6" textLength="42.0" lengthAdjust="spacingAndGlyphs" stroke="#1c1c1c" stroke-width="0.45">/KVM</text>
  <text x="791.2 812.7 834.1" y="181.2" font-size="20.5">交换机</text>
  <text x="751.0 772.3 793.6 814.9 836.2 857.5" y="270.3" font-size="21.5">边缘计算网关</text>
  <text x="202.4" y="362.5" font-size="20.0" textLength="30.7" lengthAdjust="spacingAndGlyphs" stroke="#1c1c1c" stroke-width="0.45">SPD</text>
  <text x="162.8 183.9 204.9 226.0 247.1" y="385.3" font-size="20.8">智能监测仪</text>
  <text x="413.5 435.2 456.9" y="364.4" font-size="20.8">雷电流</text>
  <text x="394.1 415.3 436.4 457.6 478.8" y="386.4" font-size="20.8">智能监测仪</text>
  <text x="707.3 727.2 747.2" y="426.0" font-size="19.2">多功能</text>
  <text x="766.7" y="426.5" font-size="19.5" textLength="39.5" lengthAdjust="spacing">SPD</text>
  <text x="806.7 826.8 846.8" y="426.0" font-size="19.2">监测仪</text>
  <text x="738.0 757.7 777.3 797.0 816.7" y="447.9" font-size="19.2">可按需订制</text>
  <text x="977.1 1005.4 1033.7 1062.0" y="365.7" font-size="21.0">接地电阻</text>
  <text x="978.3 999.8 1021.3 1042.9 1064.4" y="387.3" font-size="21.0">智能监测仪</text>
  <text x="42.9 62.7 82.5 102.3" y="644.6" font-size="19.0">接地状态</text>
  <text x="156.8" y="639.6" font-size="17.6" textLength="8.8" lengthAdjust="spacingAndGlyphs" stroke="#1c1c1c" stroke-width="0.6">S</text>
  <text x="170.2" y="639.6" font-size="17.6" textLength="8.8" lengthAdjust="spacingAndGlyphs" stroke="#1c1c1c" stroke-width="0.6">P</text>
  <text x="183.7" y="639.6" font-size="17.6" textLength="8.8" lengthAdjust="spacingAndGlyphs" stroke="#1c1c1c" stroke-width="0.6">D</text>
  <text x="156.5 176.2" y="662.7" font-size="18.6">状态</text>
  <text x="241.1" y="639.6" font-size="17.6" textLength="8.8" lengthAdjust="spacingAndGlyphs" stroke="#1c1c1c" stroke-width="0.6">S</text>
  <text x="255.2" y="639.6" font-size="17.6" textLength="8.8" lengthAdjust="spacingAndGlyphs" stroke="#1c1c1c" stroke-width="0.6">P</text>
  <text x="269.4" y="639.6" font-size="17.6" textLength="8.8" lengthAdjust="spacingAndGlyphs" stroke="#1c1c1c" stroke-width="0.6">D</text>
  <text x="227.1 246.1 265.2 284.2" y="662.2" font-size="18.6">动作次数</text>
  <text x="327.7 347.7" y="643.9" font-size="18.6">空开</text>
  <text x="327.7 347.7" y="664.0" font-size="18.6">状态</text>
  <text x="439.2 458.9 478.7" y="642.6" font-size="18.8">雷电流</text>
  <text x="439.2 478.7" y="664.1" font-size="18.8">大小</text>
  <text x="1017.6 1037.2 1056.7 1076.2 1095.7 1115.3" y="687.7" font-size="19.0">接地电阻阻值</text>
  <text x="547.9 567.9" y="835.2" font-size="18.8">泄漏</text>
  <text x="547.9 567.9" y="857.0" font-size="18.8">电流</text>
  <text x="621.1 640.5 660.0 679.4" y="835.2" font-size="19.0">接地状态</text>
  <text x="734.6" y="831.6" font-size="17.6" textLength="8.8" lengthAdjust="spacingAndGlyphs" stroke="#1c1c1c" stroke-width="0.6">S</text>
  <text x="749.8" y="831.6" font-size="17.6" textLength="8.8" lengthAdjust="spacingAndGlyphs" stroke="#1c1c1c" stroke-width="0.6">P</text>
  <text x="765.0" y="831.6" font-size="17.6" textLength="8.8" lengthAdjust="spacingAndGlyphs" stroke="#1c1c1c" stroke-width="0.6">D</text>
  <text x="736.4 756.6" y="854.2" font-size="18.6">状态</text>
  <text x="819.6" y="831.6" font-size="17.6" textLength="8.8" lengthAdjust="spacingAndGlyphs" stroke="#1c1c1c" stroke-width="0.6">S</text>
  <text x="834.3" y="831.6" font-size="17.6" textLength="8.8" lengthAdjust="spacingAndGlyphs" stroke="#1c1c1c" stroke-width="0.6">P</text>
  <text x="849.0" y="831.6" font-size="17.6" textLength="8.8" lengthAdjust="spacingAndGlyphs" stroke="#1c1c1c" stroke-width="0.6">D</text>
  <text x="806.1 825.0 844.0 862.9" y="854.2" font-size="18.6">动作次数</text>
  <text x="911.5 931.9" y="834.0" font-size="18.6">空开</text>
  <text x="911.5 931.9" y="855.1" font-size="18.6">状态</text>
  <text x="995.0 1015.5" y="834.1" font-size="18.8">温度</text>
  <text x="723.6" y="447.2" font-size="17.5">(</text>
  <text x="843" y="447.2" font-size="17.5">)</text>
</g>
</svg>
</body>
</html>
